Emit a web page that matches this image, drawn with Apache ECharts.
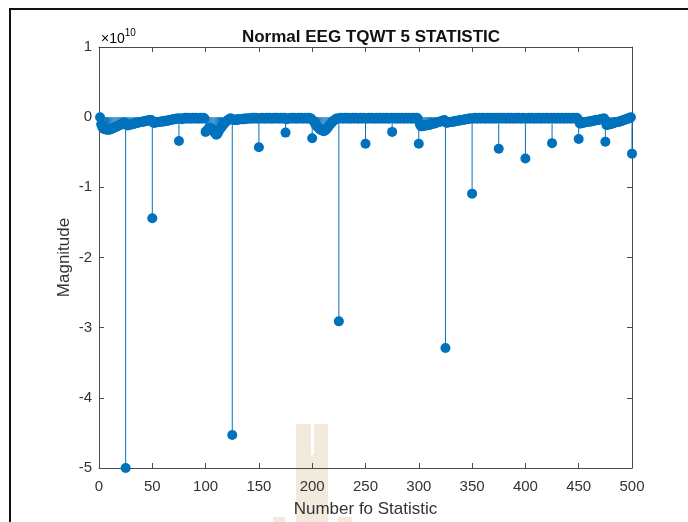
<!DOCTYPE html>
<html>
<head>
<meta charset="utf-8">
<script src="https://cdn.jsdelivr.net/npm/echarts@6/dist/echarts.min.js"></script>
<style>
  html, body { margin: 0; padding: 0; background: #fff; }
  #chart { width: 688px; height: 522px; }
</style>
</head>
<body>
<div id="chart"></div>
<script>
// Axis ranges (values are in units of 1e10)
const xMin = 0, xMax = 500, xStep = 50;
const yMin = -5, yMax = 1, yStep = 1;

// Every 25th statistic: the large negative magnitudes
const peakX = [25, 50, 75, 100, 125, 150, 175, 200, 225, 250,
               275, 300, 325, 350, 375, 400, 425, 450, 475, 500];
const peakY = [-5.00, -1.44, -0.34, -0.21, -4.53, -0.43, -0.22, -0.30, -2.91, -0.38,
               -0.21, -0.38, -3.29, -1.09, -0.45, -0.59, -0.37, -0.31, -0.35, -0.52];

// The 24 statistics between consecutive peaks, one row per 25-wide block
const bandValues = [
  [ 0.00,-0.10,-0.14,-0.16,-0.17,-0.17,-0.18,-0.18,-0.17,-0.18,-0.17,-0.16,-0.16,-0.15,-0.14,-0.14,-0.13,-0.12,-0.12,-0.11,-0.10,-0.09,-0.09,-0.08],
  [-0.11,-0.12,-0.11,-0.11,-0.10,-0.10,-0.10,-0.09,-0.09,-0.08,-0.08,-0.08,-0.07,-0.07,-0.07,-0.06,-0.06,-0.06,-0.05,-0.05,-0.05,-0.04,-0.04,-0.04],
  [-0.08,-0.08,-0.08,-0.07,-0.07,-0.07,-0.07,-0.06,-0.06,-0.06,-0.06,-0.05,-0.05,-0.05,-0.05,-0.04,-0.04,-0.04,-0.03,-0.03,-0.03,-0.03,-0.02,-0.02],
  [-0.02,-0.02,-0.03,-0.02,-0.02,-0.01,-0.02,-0.02,-0.01,-0.02,-0.02,-0.02,-0.01,-0.02,-0.02,-0.01,-0.02,-0.02,-0.02,-0.01,-0.02,-0.02,-0.01,-0.02],
  [-0.19,-0.18,-0.16,-0.15,-0.16,-0.17,-0.19,-0.21,-0.23,-0.25,-0.24,-0.21,-0.18,-0.16,-0.14,-0.12,-0.10,-0.08,-0.07,-0.05,-0.04,-0.03,-0.02,-0.02],
  [-0.04,-0.04,-0.04,-0.03,-0.04,-0.03,-0.03,-0.03,-0.03,-0.03,-0.02,-0.03,-0.02,-0.02,-0.02,-0.02,-0.02,-0.02,-0.01,-0.02,-0.02,-0.01,-0.02,-0.02],
  [-0.02,-0.02,-0.01,-0.02,-0.02,-0.02,-0.01,-0.02,-0.02,-0.01,-0.02,-0.02,-0.02,-0.01,-0.02,-0.02,-0.01,-0.02,-0.02,-0.02,-0.01,-0.02,-0.02,-0.01],
  [-0.03,-0.02,-0.02,-0.02,-0.01,-0.02,-0.02,-0.01,-0.02,-0.02,-0.02,-0.01,-0.02,-0.02,-0.01,-0.02,-0.02,-0.02,-0.01,-0.02,-0.02,-0.01,-0.02,-0.02],
  [-0.05,-0.07,-0.10,-0.12,-0.14,-0.15,-0.17,-0.18,-0.19,-0.19,-0.20,-0.19,-0.18,-0.16,-0.14,-0.12,-0.10,-0.08,-0.07,-0.05,-0.04,-0.03,-0.02,-0.02],
  [-0.02,-0.01,-0.02,-0.02,-0.02,-0.01,-0.02,-0.02,-0.01,-0.02,-0.02,-0.02,-0.01,-0.02,-0.02,-0.01,-0.02,-0.02,-0.02,-0.01,-0.02,-0.02,-0.01,-0.02],
  [-0.02,-0.02,-0.01,-0.02,-0.02,-0.01,-0.02,-0.02,-0.02,-0.01,-0.02,-0.02,-0.01,-0.02,-0.02,-0.02,-0.01,-0.02,-0.02,-0.01,-0.02,-0.02,-0.02,-0.01],
  [-0.02,-0.01,-0.02,-0.02,-0.02,-0.01,-0.02,-0.02,-0.01,-0.02,-0.02,-0.02,-0.01,-0.02,-0.02,-0.01,-0.02,-0.02,-0.02,-0.01,-0.02,-0.02,-0.01,-0.02],
  [-0.10,-0.13,-0.13,-0.13,-0.12,-0.12,-0.12,-0.11,-0.11,-0.11,-0.10,-0.10,-0.09,-0.09,-0.09,-0.08,-0.08,-0.07,-0.07,-0.06,-0.06,-0.05,-0.05,-0.04],
  [-0.08,-0.08,-0.07,-0.07,-0.07,-0.07,-0.06,-0.06,-0.06,-0.05,-0.05,-0.05,-0.05,-0.04,-0.04,-0.04,-0.04,-0.03,-0.03,-0.03,-0.03,-0.02,-0.02,-0.02],
  [-0.02,-0.02,-0.01,-0.02,-0.02,-0.02,-0.01,-0.02,-0.02,-0.01,-0.02,-0.02,-0.02,-0.01,-0.02,-0.02,-0.01,-0.02,-0.02,-0.02,-0.01,-0.02,-0.02,-0.01],
  [-0.02,-0.01,-0.02,-0.02,-0.01,-0.02,-0.02,-0.02,-0.01,-0.02,-0.02,-0.01,-0.02,-0.02,-0.02,-0.01,-0.02,-0.02,-0.01,-0.02,-0.02,-0.02,-0.01,-0.02],
  [-0.02,-0.02,-0.01,-0.02,-0.02,-0.01,-0.02,-0.02,-0.02,-0.01,-0.02,-0.02,-0.01,-0.02,-0.02,-0.02,-0.01,-0.02,-0.02,-0.01,-0.02,-0.02,-0.02,-0.01],
  [-0.02,-0.01,-0.02,-0.02,-0.02,-0.01,-0.02,-0.02,-0.01,-0.02,-0.02,-0.02,-0.01,-0.02,-0.02,-0.01,-0.02,-0.02,-0.02,-0.01,-0.02,-0.02,-0.01,-0.02],
  [-0.09,-0.09,-0.08,-0.08,-0.08,-0.07,-0.07,-0.07,-0.06,-0.06,-0.06,-0.06,-0.05,-0.05,-0.05,-0.04,-0.04,-0.04,-0.04,-0.03,-0.03,-0.03,-0.02,-0.02],
  [-0.11,-0.11,-0.10,-0.10,-0.10,-0.09,-0.09,-0.08,-0.08,-0.07,-0.07,-0.07,-0.06,-0.06,-0.05,-0.05,-0.04,-0.04,-0.03,-0.03,-0.02,-0.02,-0.01, 0.00]
];

// Assemble [index, value] pairs for indices 1..500
const stemData = [];
bandValues.forEach((row, b) => {
  row.forEach((v, k) => stemData.push([b * 25 + k + 1, v]));
  stemData.push([peakX[b], peakY[b]]);
});

const stemColor = '#0072BD';
const axisColor = '#4a4a4a';
const textColor = '#333333';
const fontFamily = 'Liberation Sans, Arial, sans-serif';

const chart = echarts.init(document.getElementById('chart'), null, { renderer: 'canvas' });

const boxAxis = {
  axisLine: { show: true, onZero: false, lineStyle: { color: axisColor, width: 1 } },
  axisTick: { show: true, inside: true, length: 5, lineStyle: { color: axisColor } },
  splitLine: { show: false }
};

chart.setOption({
  animation: false,
  backgroundColor: '#ffffff',
  title: {
    text: 'Normal EEG TQWT 5 STATISTIC',
    left: 366,
    top: 24,
    textAlign: 'center',
    textStyle: { fontFamily, fontWeight: 'bold', fontSize: 17, color: '#111' }
  },
  grid: { left: 99, right: 56, top: 47, bottom: 54, containLabel: false, outerBoundsMode: 'none' },
  xAxis: [
    Object.assign({
      type: 'value', position: 'bottom', min: xMin, max: xMax, interval: xStep,
      axisLabel: { color: textColor, fontFamily, fontSize: 15, margin: 11 },
      name: 'Number fo Statistic', nameLocation: 'middle', nameGap: 33, nameMoveOverlap: false,
      nameTextStyle: { color: textColor, fontFamily, fontSize: 17 }
    }, boxAxis),
    Object.assign({
      type: 'value', position: 'top', min: xMin, max: xMax, interval: xStep,
      axisLabel: { show: false }
    }, boxAxis)
  ],
  yAxis: [
    Object.assign({
      type: 'value', position: 'left', min: yMin, max: yMax, interval: yStep,
      axisLabel: { color: textColor, fontFamily, fontSize: 15, margin: 7 },
      name: 'Magnitude', nameLocation: 'middle', nameGap: 26, nameRotate: 90, nameMoveOverlap: false,
      nameTextStyle: { color: textColor, fontFamily, fontSize: 17 }
    }, boxAxis),
    Object.assign({
      type: 'value', position: 'right', min: yMin, max: yMax, interval: yStep,
      axisLabel: { show: false }
    }, boxAxis)
  ],
  graphic: [
    // exponent label of the y axis
    {
      type: 'text', left: 101, top: 28, z: 10,
      style: {
        text: '{a|\u00d710}{b|10}',
        rich: {
          a: { fontFamily, fontSize: 14, color: textColor, verticalAlign: 'bottom', lineHeight: 18 },
          b: { fontFamily, fontSize: 10, color: textColor, verticalAlign: 'top', lineHeight: 18, padding: [0, 0, 8, 0] }
        }
      }
    },
    // outer frame
    { type: 'line', z: 10, shape: { x1: 9, y1: 9, x2: 688, y2: 9 }, style: { stroke: '#111', lineWidth: 2 } },
    { type: 'line', z: 10, shape: { x1: 10, y1: 8, x2: 10, y2: 522 }, style: { stroke: '#111', lineWidth: 2 } },
    // faint background emblem
    { type: 'rect', z: -10, silent: true, shape: { x: 296, y: 424, width: 15, height: 98 }, style: { fill: '#F1EADD' } },
    { type: 'rect', z: -10, silent: true, shape: { x: 314, y: 424, width: 14, height: 98 }, style: { fill: '#F1EADD' } },
    { type: 'rect', z: -10, silent: true, shape: { x: 311, y: 455, width: 3, height: 67 }, style: { fill: '#F1EADD' } },
    { type: 'rect', z: -10, silent: true, shape: { x: 273, y: 517, width: 12, height: 5 }, style: { fill: '#F1EADD' } },
    { type: 'rect', z: -10, silent: true, shape: { x: 338, y: 517, width: 14, height: 5 }, style: { fill: '#F1EADD' } }
  ],
  series: [
    {
      type: 'custom',
      xAxisIndex: 0, yAxisIndex: 0,
      data: stemData,
      encode: { x: 0, y: 1 },
      z: 2,
      renderItem: function (params, api) {
        const x = api.value(0);
        const p0 = api.coord([x, 0]);
        const p1 = api.coord([x, api.value(1)]);
        return {
          type: 'line',
          shape: { x1: p0[0], y1: p0[1], x2: p1[0], y2: p1[1] },
          style: { stroke: stemColor, lineWidth: 1 }
        };
      }
    },
    {
      type: 'scatter',
      xAxisIndex: 0, yAxisIndex: 0,
      data: stemData,
      symbol: 'circle',
      symbolSize: 10,
      clip: false,
      z: 3,
      itemStyle: { color: stemColor, opacity: 1 }
    }
  ]
});
</script>
</body>
</html>
